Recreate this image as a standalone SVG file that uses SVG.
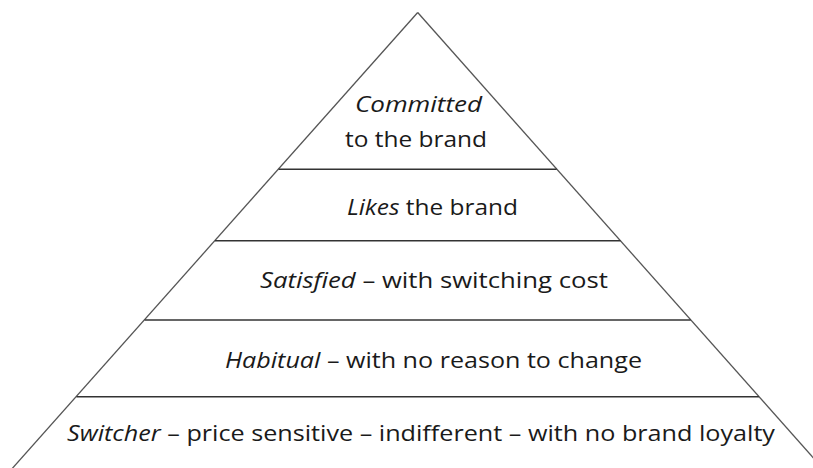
<svg xmlns="http://www.w3.org/2000/svg" width="813" height="468" viewBox="0 0 813 468">
  <style>
    .side { stroke: #555; stroke-width: 1.3; fill: none; }
    .tier { stroke: #333; stroke-width: 1.6; fill: none; }
    .lbl { font-family: "Open Sans", "Liberation Sans", sans-serif; font-size: 21px; fill: #1a1a1a; }
    .em { font-style: italic; }
  </style>
  <rect width="813" height="468" fill="#fff"/>
  <g id="connectors">
    <line class="side" x1="417.7" y1="12.5" x2="10" y2="471"/>
    <line class="side" x1="417.7" y1="12.5" x2="825" y2="471"/>
    <line class="tier" x1="278.7" y1="169.3" x2="556.7" y2="169.3"/>
    <line class="tier" x1="215" y1="240.7" x2="620.5" y2="240.7"/>
    <line class="tier" x1="144.7" y1="320" x2="690.7" y2="320"/>
    <line class="tier" x1="76.5" y1="396.7" x2="758.9" y2="396.7"/>
  </g>
  <g id="committed">
    <text class="lbl em" x="355" y="112" textLength="127" lengthAdjust="spacingAndGlyphs">Committed</text>
    <text class="lbl" x="345" y="147" textLength="142" lengthAdjust="spacingAndGlyphs">to the brand</text>
  </g>
  <g id="likes">
    <text class="lbl" x="347" y="215" textLength="171" lengthAdjust="spacingAndGlyphs"><tspan class="em">Likes</tspan> the brand</text>
  </g>
  <g id="satisfied">
    <text class="lbl" x="260" y="288" textLength="348" lengthAdjust="spacingAndGlyphs"><tspan class="em">Satisfied</tspan> – with switching cost</text>
  </g>
  <g id="habitual">
    <text class="lbl" x="225" y="368" textLength="417" lengthAdjust="spacingAndGlyphs"><tspan class="em">Habitual</tspan> – with no reason to change</text>
  </g>
  <g id="switcher">
    <text class="lbl" x="67" y="441" textLength="708" lengthAdjust="spacingAndGlyphs"><tspan class="em">Switcher</tspan> – price sensitive – indifferent – with no brand loyalty</text>
  </g>
</svg>
